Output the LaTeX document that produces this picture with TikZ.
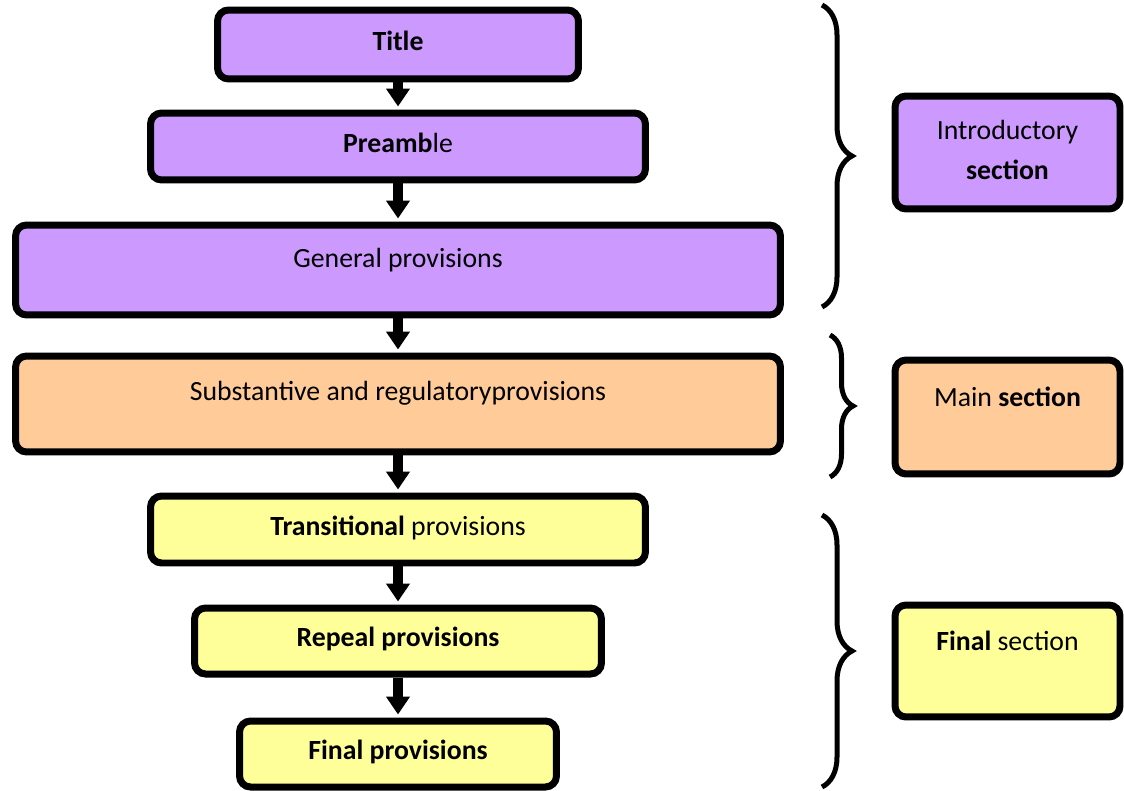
\documentclass[tikz,border=0pt]{standalone}
\usepackage{fontspec}
\setmainfont{Carlito}
\usetikzlibrary{arrows.meta,decorations.pathreplacing}
\definecolor{lilac}{HTML}{CC99FF}
\definecolor{peach}{HTML}{FFCC99}
\definecolor{lemon}{HTML}{FFFF99}

\begin{document}
\begin{tikzpicture}[x=0.02cm,y=-0.02cm,
		block/.style={draw,line width=0.14cm,rounded corners=0.22cm,align=center,inner sep=0pt,
			font=\fontsize{15.8}{22.7}\selectfont},
		oneline/.style={text height=0.75em,text depth=#1},
		oneline/.default=0.1em,
		flow/.style={line width=0.2cm,-{Triangle[width=0.46cm,length=0.36cm]},shorten >=0.06cm},
		curly/.style={decorate,decoration={brace,amplitude=#1},line width=0.1cm},
		curly/.default=0.6cm]
		\useasboundingbox (0,0) rectangle (1124,790);
		
		%left column
		\node[block,fill=lilac,oneline,minimum width=7.22cm,minimum height=1.38cm] (title) at (398,44.5) {\textbf{Title}};
		\node[block,fill=lilac,oneline,minimum width=9.9cm,minimum height=1.34cm] (pre) at (398,146.5) {\textbf{Preamb}le};
		\node[block,fill=lilac,oneline=0.99em,minimum width=15.3cm,minimum height=1.8cm] (gen) at (398,270) {General provisions};
		\node[block,fill=peach,oneline=1.16em,minimum width=15.3cm,minimum height=1.92cm] (sub) at (398,404) {Substantive and regulatoryprovisions};
		\node[block,fill=lemon,oneline,minimum width=9.9cm,minimum height=1.34cm] (trans) at (398,529.5) {\textbf{Transitional} provisions};
		\node[block,fill=lemon,oneline,minimum width=8.14cm,minimum height=1.32cm] (rep) at (398,641) {\textbf{Repeal provisions}};
		\node[block,fill=lemon,oneline,minimum width=6.34cm,minimum height=1.32cm] (fin) at (398,754) {\textbf{Final provisions}};
		
		%arrows
		\draw[flow] (title) -- (pre);
		\draw[flow] (pre) -- (gen);
		\draw[flow] (gen) -- (sub);
		\draw[flow] (sub) -- (trans);
		\draw[flow] (trans) -- (rep);
		\draw[flow] (rep) -- (fin);
		
		%braces
		\draw[curly] (822,5) -- (822,307);
		\draw[curly=0.46cm] (830,335) -- (830,477);
		\draw[curly] (822,515) -- (822,787);
		
		%sections
		\node[block,fill=lilac,text depth=0.28em,minimum width=4.5cm,minimum height=2.26cm] (intro) at (1007.5,152.5) {Introductory\\\textbf{section}};
		\node[block,fill=peach,oneline=1.95em,minimum width=4.5cm,minimum height=2.28cm] (main) at (1007.5,417) {Main \textbf{section}};
		\node[block,fill=lemon,oneline=1.95em,minimum width=4.5cm,minimum height=2.24cm] (final) at (1007.5,661) {\textbf{Final} section};
\end{tikzpicture}
\end{document}
